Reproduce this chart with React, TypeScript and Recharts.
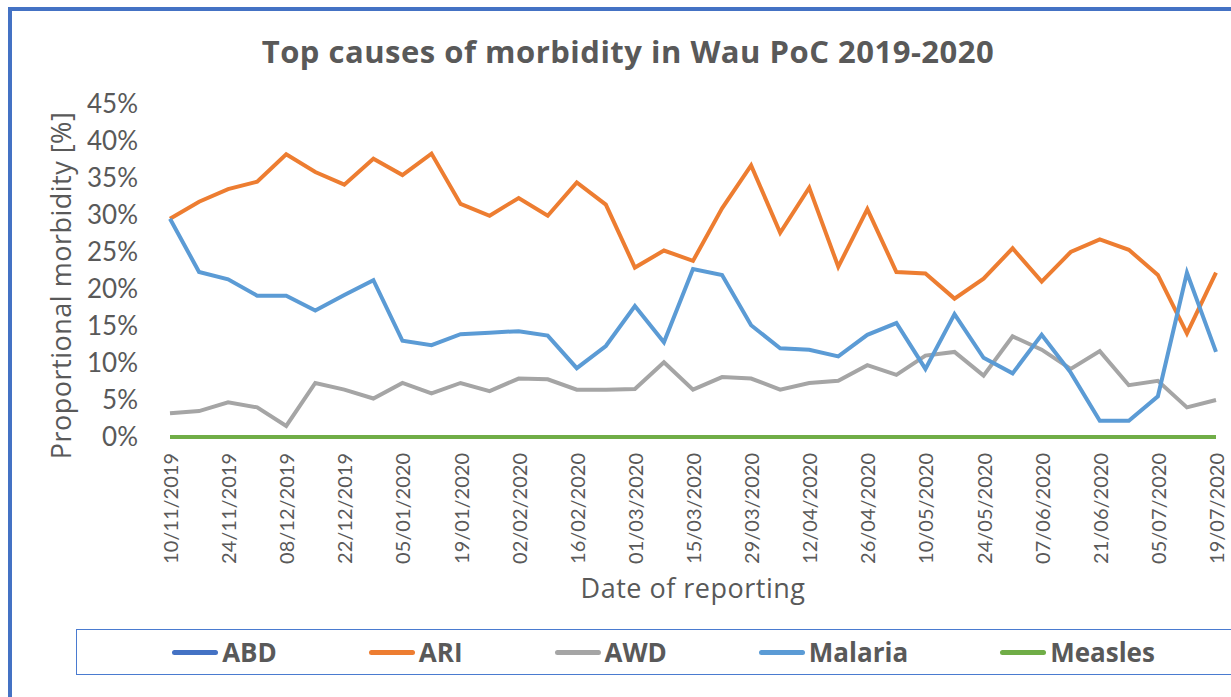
import { CartesianGrid, Legend, Line, LineChart, XAxis, YAxis } from "recharts";

const FONT = "Lato, 'Open Sans', sans-serif";
const WIDE = "'Open Sans', Lato, sans-serif";
const TEXT = "#595959";

const dates = [
  "10/11/2019", "17/11/2019", "24/11/2019", "01/12/2019", "08/12/2019", "15/12/2019",
  "22/12/2019", "29/12/2019", "05/01/2020", "12/01/2020", "19/01/2020", "26/01/2020",
  "02/02/2020", "09/02/2020", "16/02/2020", "23/02/2020", "01/03/2020", "08/03/2020",
  "15/03/2020", "22/03/2020", "29/03/2020", "05/04/2020", "12/04/2020", "19/04/2020",
  "26/04/2020", "03/05/2020", "10/05/2020", "17/05/2020", "24/05/2020", "31/05/2020",
  "07/06/2020", "14/06/2020", "21/06/2020", "28/06/2020", "05/07/2020", "12/07/2020",
  "19/07/2020",
];

const abd = dates.map(() => 0);
const ari = [
  29.5, 31.8, 33.5, 34.5, 38.2, 35.8, 34.1, 37.6, 35.4, 38.3, 31.5, 29.9, 32.3, 29.9, 34.4,
  31.4, 22.9, 25.2, 23.8, 30.9, 36.7, 27.6, 33.7, 23.0, 30.8, 22.3, 22.1, 18.7, 21.4, 25.5,
  21.0, 25.0, 26.7, 25.3, 21.9, 14.0, 22.2,
];
const awd = [
  3.2, 3.5, 4.7, 4.0, 1.5, 7.3, 6.4, 5.2, 7.3, 5.9, 7.3, 6.2, 7.9, 7.8, 6.4, 6.4, 6.5, 10.1,
  6.4, 8.1, 7.9, 6.4, 7.3, 7.6, 9.7, 8.4, 11.0, 11.5, 8.3, 13.6, 11.8, 9.2, 11.6, 7.0, 7.6,
  4.0, 5.0,
];
const malaria = [
  29.5, 22.3, 21.3, 19.1, 19.1, 17.1, 19.2, 21.2, 13.0, 12.4, 13.9, 14.1, 14.3, 13.7, 9.3,
  12.3, 17.7, 12.8, 22.7, 21.9, 15.1, 12.0, 11.8, 10.9, 13.8, 15.4, 9.2, 16.6, 10.7, 8.6,
  13.8, 8.7, 2.2, 2.2, 5.5, 22.2, 11.5,
];
const measles = dates.map(() => 0);

const yTicks = [0, 5, 10, 15, 20, 25, 30, 35, 40, 45];

const SERIES = [
  { key: "ABD", color: "#4472C4" },
  { key: "ARI", color: "#ED7D31" },
  { key: "AWD", color: "#A5A5A5" },
  { key: "Malaria", color: "#5B9BD5" },
  { key: "Measles", color: "#70AD47" },
];

const data = dates.map((d, i) => ({
  date: d,
  ABD: abd[i],
  ARI: ari[i],
  AWD: awd[i],
  Malaria: malaria[i],
  Measles: measles[i],
}));

function DateTick({ x, y, payload }: any) {
  return (
    <text
      x={x}
      y={y}
      transform={`rotate(-90, ${x}, ${y})`}
      textAnchor="end"
      dominantBaseline="central"
      fill={TEXT}
      fontSize={20}
      fontFamily={FONT}
    >
      {payload.value}
    </text>
  );
}

function LegendBox() {
  return (
    <div
      style={{
        width: 1175,
        height: 46,
        border: "1.5px solid #4a7bd0",
        display: "flex",
        justifyContent: "center",
        alignItems: "center",
        gap: 92,
        fontFamily: WIDE,
        fontWeight: 700,
        fontSize: 26,
        color: TEXT,
        boxSizing: "border-box",
      }}
    >
      {SERIES.map((s) => (
        <div key={s.key} style={{ display: "flex", alignItems: "center", gap: 4 }}>
          <div style={{ width: 46, height: 5, borderRadius: 3, background: s.color }} />
          <span>{s.key}</span>
        </div>
      ))}
    </div>
  );
}

export default function App() {
  return (
    <div
      style={{
        position: "absolute",
        left: 0,
        top: 0,
        width: 1231,
        height: 697,
        background: "#fff",
        overflow: "hidden",
        fontFamily: FONT,
      }}
    >
      <div
        style={{
          position: "absolute",
          left: 8,
          top: 7,
          width: 1300,
          height: 800,
          borderTop: "4px solid #4472C4",
          borderLeft: "4.5px solid #4472C4",
        }}
      />
      <div
        style={{
          position: "absolute",
          left: 0,
          top: 30,
          width: 1256,
          textAlign: "center",
          fontSize: 31,
          letterSpacing: 0.5,
          fontWeight: 700,
          fontFamily: WIDE,
          color: TEXT,
        }}
      >
        Top causes of morbidity in Wau PoC 2019-2020
      </div>
      <div style={{ position: "absolute", left: 0, top: 0 }}>
        <LineChart
          width={1231}
          height={697}
          data={data}
          margin={{ top: 104, right: 15, bottom: 95, left: 70 }}
        >
          <CartesianGrid stroke="none" />
          <XAxis
            dataKey="date"
            interval={1}
            height={165}
            axisLine={false}
            tickLine={false}
            tickSize={0}
            tickMargin={16}
            tick={<DateTick />}
            label={{
              value: "Date of reporting",
              position: "insideBottom",
              offset: 4,
              fill: TEXT,
              fontSize: 27,
              letterSpacing: 0.5,
              fontFamily: WIDE,
            }}
          />
          <YAxis
            width={100}
            domain={[0, 45]}
            ticks={yTicks}
            axisLine={false}
            tickLine={false}
            tickSize={0}
            tickMargin={32}
            tickFormatter={(v: number) => `${v}%`}
            tick={{ fill: TEXT, fontSize: 26, fontFamily: FONT }}
            label={{
              content: ({ viewBox }: any) => {
                const cx = viewBox.x - 10;
                const cy = viewBox.y + viewBox.height / 2 + 15;
                return (
                  <text
                    x={cx}
                    y={cy}
                    transform={`rotate(-90, ${cx}, ${cy})`}
                    textAnchor="middle"
                    dominantBaseline="central"
                    fill={TEXT}
                    fontSize={27}
                    letterSpacing={0.5}
                    fontFamily={WIDE}
                  >
                    Proportional morbidity [%]
                  </text>
                );
              },
            }}
          />
          <Legend
            layout="horizontal"
            verticalAlign="middle"
            align="center"
            wrapperStyle={{ top: 629, left: 76, width: 1175 }}
            content={() => <LegendBox />}
          />
          {SERIES.map((s) => (
            <Line
              key={s.key}
              type="linear"
              dataKey={s.key}
              stroke={s.color}
              strokeWidth={4}
              dot={false}
              activeDot={false}
              isAnimationActive={false}
            />
          ))}
        </LineChart>
      </div>
    </div>
  );
}
